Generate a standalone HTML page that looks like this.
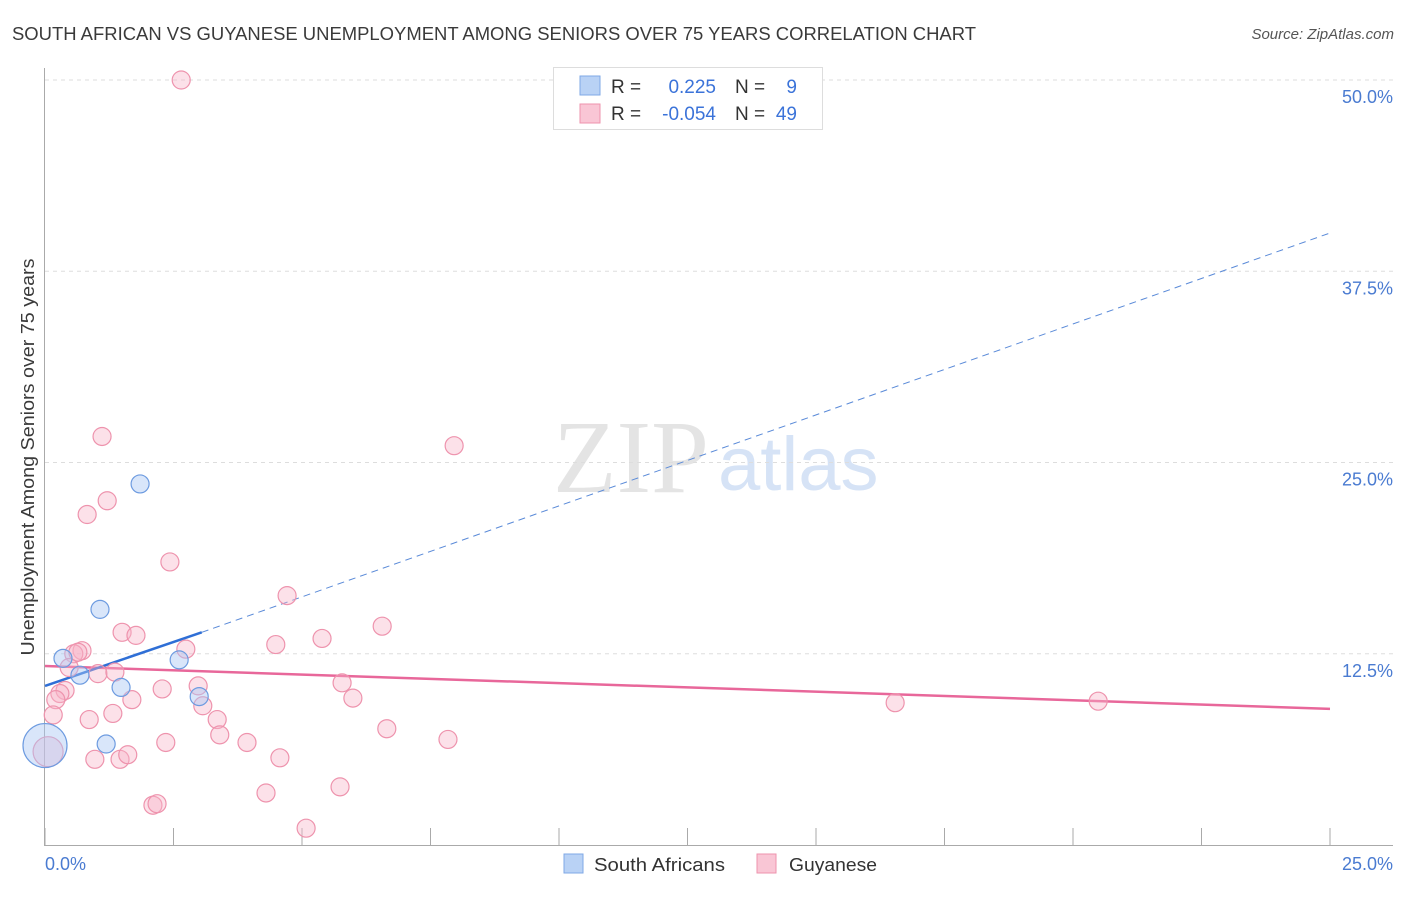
<!DOCTYPE html>
<html><head><meta charset="utf-8"><style>
body{margin:0;background:#fff;font-family:"Liberation Sans",sans-serif;}
</style></head><body>
<svg id="chart" width="1406" height="892" xmlns="http://www.w3.org/2000/svg" font-family="Liberation Sans, sans-serif">
<text x="12" y="40" font-size="18" fill="#3a3a3a" textLength="964" lengthAdjust="spacingAndGlyphs">SOUTH AFRICAN VS GUYANESE UNEMPLOYMENT AMONG SENIORS OVER 75 YEARS CORRELATION CHART</text>
<text x="1394" y="39" font-size="15" fill="#555" text-anchor="end" font-style="italic">Source: ZipAtlas.com</text>
<g>
<text x="553" y="492" font-size="104" font-family="Liberation Serif, serif" fill="#e4e4e4">ZIP</text>
<text x="718" y="490" font-size="76" fill="#d6e3f6">atlas</text>
</g>
<g id="grid"></g>
<g id="axes"></g>
<g id="trends"></g>
<g id="points"></g>
<text transform="translate(34,457) rotate(-90)" text-anchor="middle" font-size="18" fill="#3a3a3a" textLength="397" lengthAdjust="spacingAndGlyphs">Unemployment Among Seniors over 75 years</text>
<text x="45" y="870" font-size="18" fill="#4a7bd1">0.0%</text>
<text x="1393" y="870" font-size="18" fill="#4a7bd1" text-anchor="end">25.0%</text>
<g>
<rect x="553.5" y="67.5" width="269" height="62" fill="#fff" stroke="#ddd"/>
<rect x="580" y="76" width="20" height="19" fill="#b9d2f5" stroke="#7fa8e6"/>
<rect x="580" y="104" width="20" height="19" fill="#f9c6d5" stroke="#ee93ad"/>
<text x="611" y="93" font-size="19" fill="#333">R =</text>
<text x="716" y="93" font-size="19" fill="#3b73d9" text-anchor="end">0.225</text>
<text x="735" y="93" font-size="19" fill="#333">N =</text>
<text x="797" y="93" font-size="19" fill="#3b73d9" text-anchor="end">9</text>
<text x="611" y="120" font-size="19" fill="#333">R =</text>
<text x="716" y="120" font-size="19" fill="#3b73d9" text-anchor="end">-0.054</text>
<text x="735" y="120" font-size="19" fill="#333">N =</text>
<text x="797" y="120" font-size="19" fill="#3b73d9" text-anchor="end">49</text>
</g>
<g>
<rect x="564" y="854" width="19" height="19" fill="#b9d2f5" stroke="#7fa8e6"/>
<text x="594" y="871" font-size="18" fill="#333" textLength="131" lengthAdjust="spacingAndGlyphs">South Africans</text>
<rect x="757" y="854" width="19" height="19" fill="#f9c6d5" stroke="#ee93ad"/>
<text x="789" y="871" font-size="18" fill="#333" textLength="88" lengthAdjust="spacingAndGlyphs">Guyanese</text>
</g>
</svg>
<script>
const yTicks=[12.5,25,37.5,50];
const yTickLabels=["12.5%","25.0%","37.5%","50.0%"];
const xTicks=[0,2.5,5,7.5,10,12.5,15,17.5,20,22.5,25];
const blueX=[0.35,0.68,1.07,1.48,1.85,2.61,3.0,1.19,0.0];
const blueY=[12.2,11.1,15.4,10.3,23.6,12.1,9.7,6.6,6.5];
const blueR=[9,9,9,9,9,9,9,9,22];
const pinkX=[2.65,1.11,7.96,1.21,0.82,2.43,4.71,6.56,5.39,4.49,1.5,1.77,0.72,0.56,0.64,2.74,0.47,1.03,1.36,2.28,0.39,0.29,0.21,2.98,5.78,5.99,1.69,3.07,16.54,20.49,0.16,0.86,1.32,3.35,3.4,6.65,2.35,3.93,7.84,0.97,1.46,1.61,4.57,0.06,4.3,5.74,2.1,2.18,5.08];
const pinkY=[50.0,26.7,26.1,22.5,21.6,18.5,16.3,14.3,13.5,13.1,13.9,13.7,12.7,12.5,12.6,12.8,11.6,11.2,11.3,10.2,10.1,9.9,9.5,10.4,10.6,9.6,9.5,9.1,9.3,9.4,8.5,8.2,8.6,8.2,7.2,7.6,6.7,6.7,6.9,5.6,5.6,5.9,5.7,6.1,3.4,3.8,2.6,2.7,1.1];
const blueTrend=[0,10.4,3.05,13.9,25,40.0];
const pinkTrend=[0,11.7,25,8.9];
const X=v=>45+v*(1285/25);
const Y=v=>845-v*(765/50);
const NS="http://www.w3.org/2000/svg";
function mk(t,a,p){const e=document.createElementNS(NS,t);for(const k in a)e.setAttribute(k,a[k]);p.appendChild(e);return e;}
const grid=document.getElementById('grid'),axes=document.getElementById('axes'),tr=document.getElementById('trends'),pts=document.getElementById('points');
yTicks.forEach((v,i)=>{
 const l=mk('line',{x1:45,x2:1393,y1:Y(v),y2:Y(v),stroke:'#ddd','stroke-dasharray':'4,4'},grid);
 
 
 const t=mk('text',{x:1393,y:Y(v)+23,'font-size':18,fill:'#4a7bd1','text-anchor':'end'},grid);
 t.textContent=yTickLabels[i];
 
 
});
const ya=mk('line',{x1:44.5,x2:44.5,y1:68,y2:846,stroke:'#aaa'},axes);


const xa=mk('line',{x1:44,x2:1393,y1:845.5,y2:845.5,stroke:'#aaa'},axes);


xTicks.forEach(v=>{
 const t=mk('line',{x1:X(v),x2:X(v),y1:828,y2:845,stroke:'#aaa'},axes);
 
 
});
const pl=mk('line',{x1:X(pinkTrend[0]),y1:Y(pinkTrend[1]),x2:X(pinkTrend[2]),y2:Y(pinkTrend[3]),stroke:'#e8679a','stroke-width':2.5},tr);


const bl=mk('line',{x1:X(blueTrend[0]),y1:Y(blueTrend[1]),x2:X(blueTrend[2]),y2:Y(blueTrend[3]),stroke:'#2f6fd6','stroke-width':2.5},tr);


const bd=mk('line',{x1:X(blueTrend[2]),y1:Y(blueTrend[3]),x2:X(blueTrend[4]),y2:Y(blueTrend[5]),stroke:'#5a8ad8','stroke-width':1,'stroke-dasharray':'7,5'},tr);


pinkX.forEach((x,i)=>{
 const c=mk('circle',{cx:X(x),cy:Y(pinkY[i]),r:(i==43?15:9),fill:'rgba(248,180,200,0.4)',stroke:'#ee93ad','stroke-width':1.2},pts);
 
 
});
blueX.forEach((x,i)=>{
 const c=mk('circle',{cx:X(x),cy:Y(blueY[i]),r:blueR[i],fill:'rgba(170,200,245,0.45)',stroke:'#6d9be0','stroke-width':1.2},pts);
 
 
});
</script>
</body></html>
